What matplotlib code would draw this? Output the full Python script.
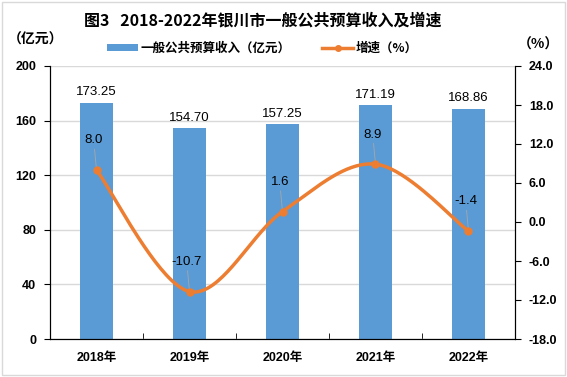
import matplotlib
matplotlib.use("Agg")
import matplotlib.pyplot as plt
import numpy as np
from matplotlib.patches import Rectangle
from matplotlib.lines import Line2D
from matplotlib.patches import Patch

plt.rcParams['font.family'] = ['Liberation Sans', 'Noto Sans CJK SC', 'DejaVu Sans']

years = ["2018年", "2019年", "2020年", "2021年", "2022年"]
revenue = [173.25, 154.70, 157.25, 171.19, 168.86]
growth = [8.0, -10.7, 1.6, 8.9, -1.4]
left_ticks = [0, 40, 80, 120, 160, 200]
right_ticks = [-18.0, -12.0, -6.0, 0.0, 6.0, 12.0, 18.0, 24.0]

BAR = "#5B9BD5"
LINE = "#ED7D31"

fig = plt.figure(figsize=(5.67, 3.77), dpi=100)
ax = fig.add_axes([50/567, 1-339/377, (515-50)/567, (339-66)/377])
ax2 = ax.twinx()

x = np.arange(len(years))
ax.bar(x, revenue, width=0.36, color=BAR, zorder=2)
ax.set_xlim(-0.5, len(years)-0.5)
ax.set_ylim(0, 200)
ax.set_yticks(left_ticks)
ax.set_yticklabels([str(v) for v in left_ticks], fontsize=9, fontweight='bold')
ax.set_xticks(x)
ax.set_xticklabels(years, fontsize=9, fontweight='bold', family=['Liberation Sans', 'Noto Sans CJK SC'])
ax.tick_params(axis='x', length=0, pad=9)
ax.set_xticks(np.arange(0.5, len(years)-0.5, 1), minor=True)
ax.tick_params(axis='x', which='minor', length=4, direction='in')
ax.tick_params(axis='y', length=4, direction='out', pad=6)
ax.grid(axis='y', color='#d9d9d9', linewidth=1, zorder=0)
ax.set_axisbelow(True)
for s in ['top']:
    ax.spines[s].set_visible(False)
    ax2.spines[s].set_visible(False)
for s in ['left', 'bottom']:
    ax.spines[s].set_color('black')
ax2.spines['right'].set_color('black')

for xi, v in zip(x, revenue):
    ax.text(xi, v + 3, f"{v:.2f}", ha='center', va='bottom', fontsize=9.5, color='black')

# smooth line (Excel-style bezier through points)
pts = np.column_stack([x, growth]).astype(float)
n = len(pts)
curve = []
for i in range(n-1):
    p0 = pts[max(i-1, 0)]
    p1 = pts[i]
    p2 = pts[i+1]
    p3 = pts[min(i+2, n-1)]
    c1 = p1 + (p2 - p0) / 6
    c2 = p2 - (p3 - p1) / 6
    t = np.linspace(0, 1, 40)[:, None]
    seg = (1-t)**3*p1 + 3*(1-t)**2*t*c1 + 3*(1-t)*t**2*c2 + t**3*p2
    curve.append(seg if i == 0 else seg[1:])
curve = np.vstack(curve)
ax2.plot(curve[:, 0], curve[:, 1], color=LINE, linewidth=2.5, zorder=3, solid_capstyle='round')
ax2.plot(x, growth, 'o', color=LINE, markersize=5, zorder=4)
ax2.set_ylim(-18, 24)
ax2.set_yticks(right_ticks)
ax2.set_yticklabels([f"{v:.1f}" for v in right_ticks], fontsize=9, fontweight='bold')
ax2.tick_params(axis='y', length=4, direction='out', pad=6)

for xi, g in zip(x, growth):
    ax2.annotate(f"{g:.1f}", xy=(xi, g), xytext=(-2, 17), textcoords='offset points',
                 ha='center', va='bottom', fontsize=9.5, color='black',
                 arrowprops=dict(arrowstyle='-', color='#a6a6a6', lw=0.6, shrinkA=0, shrinkB=2))

fig.text(0.464, 1-20/377, "图3   2018-2022年银川市一般公共预算收入及增速", ha='center', va='center',
         fontsize=11.5, fontweight='bold', family=['Noto Sans CJK SC'])
fig.text(8/567, 1-40/377, "（亿元）", ha='left', va='center', fontsize=10, fontweight='bold',
         family=['Noto Sans CJK SC'])
fig.text(538/567, 1-45/377, "（%）", ha='center', va='center', fontsize=10, fontweight='bold',
         family=['Noto Sans CJK SC'])

handles = [Patch(facecolor=BAR), Line2D([0], [0], color=LINE, lw=2.5, marker='o', markersize=4)]
fig.legend(handles, ["一般公共预算收入（亿元）", "增速（%）"], loc='center', bbox_to_anchor=(0.463, 1-48/377),
           ncol=2, frameon=False, prop={'family': 'Noto Sans CJK SC', 'size': 9, 'weight': 'bold'},
           handlelength=2.5, handleheight=0.5, columnspacing=2.5, handletextpad=0.2)

fig.patches.append(Rectangle((0.004, 0.004), 0.992, 0.992, transform=fig.transFigure,
                             fill=False, edgecolor='#d9d9d9', linewidth=1))

fig.savefig("out.png", dpi=100)
